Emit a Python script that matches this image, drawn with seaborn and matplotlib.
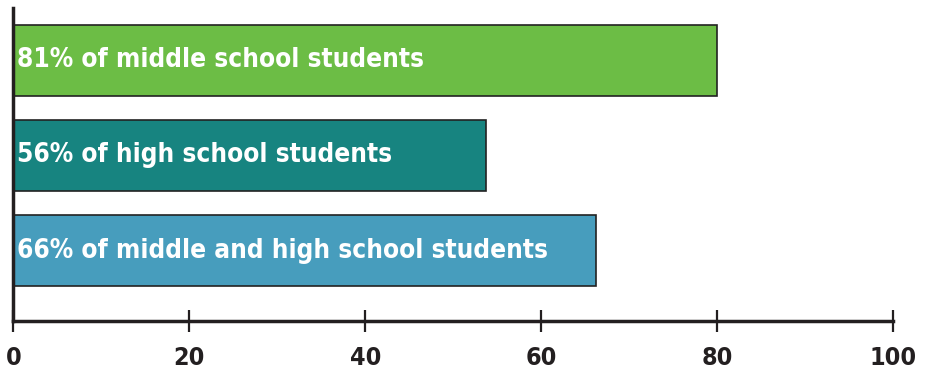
import matplotlib
matplotlib.use("Agg")
import matplotlib.pyplot as plt
import seaborn as sns
import pandas as pd

categories = ["81% of middle school students",
              "56% of high school students",
              "66% of middle and high school students"]
values = [80.0, 53.7, 66.2]
colors = ["#6cbd45", "#178480", "#479dbd"]
xticks = [0, 20, 40, 60, 80, 100]

sns.set_theme(style="white")
plt.rcParams['font.family'] = ['DejaVu Sans']

df = pd.DataFrame({"cat": categories, "val": values})

fig = plt.figure(figsize=(9.27, 3.71), dpi=100)
ax = fig.add_axes([0.01456, 0.1348, 0.9487, 0.8436])
sns.barplot(data=df, y="cat", x="val", hue="cat", palette=colors, dodge=False,
            orient="h", width=0.74, edgecolor="#222222", linewidth=1.2,
            saturation=1, legend=False, ax=ax)

for i, (c, v) in enumerate(zip(categories, values)):
    ax.text(0.45, i, c, color="white", fontsize=18.8, fontweight="bold",
            ha="left", va="center", fontstretch="condensed")

ax.set_xlim(0, 100)
ax.set_ylim(2.74, -0.55)
ax.set_xticks(xticks)
ax.set_xticklabels([str(t) for t in xticks], fontsize=18, fontweight="bold",
                   color="#231f20", fontstretch="condensed")
ax.set_yticks([])
ax.set_xlabel("")
ax.set_ylabel("")
for s in ["top", "right"]:
    ax.spines[s].set_visible(False)
for s in ["left", "bottom"]:
    ax.spines[s].set_color("#231f20")
    ax.spines[s].set_linewidth(2.5)
ax.tick_params(axis="x", bottom=True, direction="inout", length=16, width=1.6,
               color="#231f20", pad=10)

fig.savefig("out.png", dpi=100)
